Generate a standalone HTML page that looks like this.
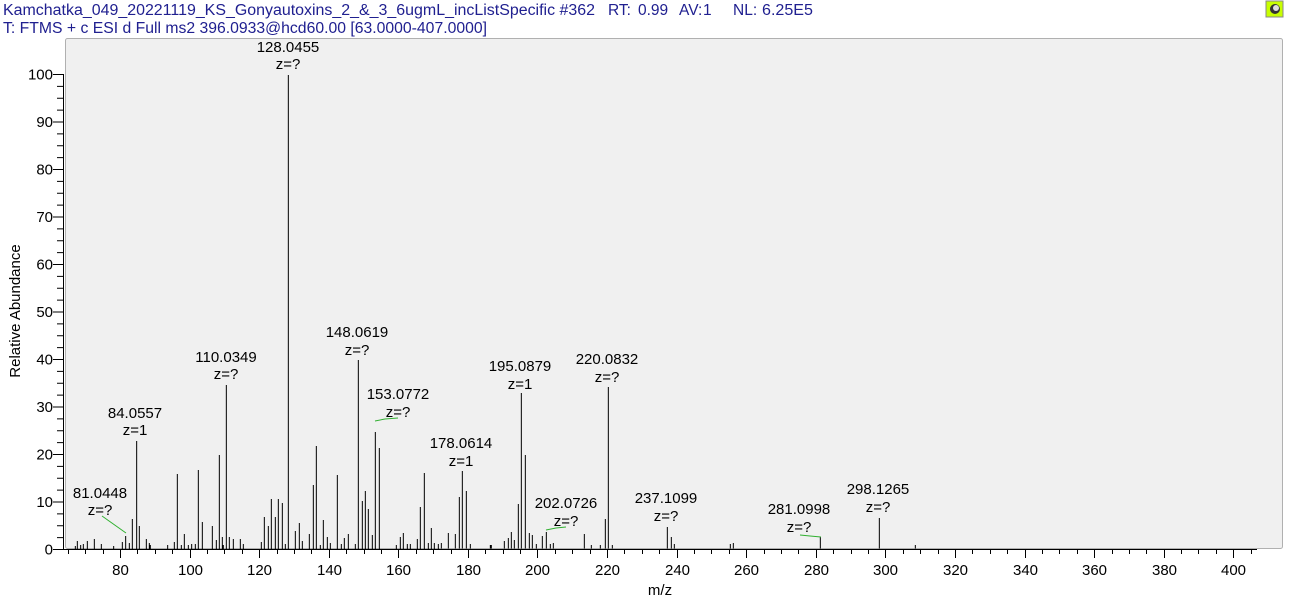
<!DOCTYPE html>
<html><head><meta charset="utf-8"><style>
html,body{margin:0;padding:0;background:#fff;}
svg{display:block;font-family:"Liberation Sans",Arial,sans-serif;}
</style></head><body>
<svg width="1290" height="605" viewBox="0 0 1290 605" xmlns="http://www.w3.org/2000/svg">
<rect x="0" y="0" width="1290" height="605" fill="#fff"/>
<g font-size="15.5" fill="#202090">
<text x="3" y="15" textLength="592" lengthAdjust="spacingAndGlyphs">Kamchatka_049_20221119_KS_Gonyautoxins_2_&amp;_3_6ugmL_incListSpecific #362</text>
<text x="608" y="15">RT:</text><text x="638" y="15">0.99</text>
<text x="679" y="15">AV:</text><text x="703" y="15">1</text>
<text x="733" y="15">NL:</text><text x="762" y="15" textLength="51" lengthAdjust="spacingAndGlyphs">6.25E5</text>
<text x="3" y="33" textLength="484" lengthAdjust="spacingAndGlyphs">T: FTMS + c ESI d Full ms2 396.0933@hcd60.00 [63.0000-407.0000]</text>
</g>
<rect x="1266" y="1" width="17" height="16" fill="#c8ff00" stroke="#888" stroke-width="1"/>
<circle cx="1275" cy="9" r="5" fill="#333"/><circle cx="1276" cy="8" r="3" fill="#ddd"/>
<rect x="65.5" y="38.5" width="1217" height="510" fill="#f0f0f0" stroke="#b0b0b0" stroke-width="1" rx="2"/>
<g stroke="#000" stroke-width="1">
<line x1="63.5" y1="74" x2="63.5" y2="549"/>
<line x1="63" y1="549.5" x2="1257" y2="549.5"/>
</g>
<g id="yt" stroke="#000" stroke-width="1"></g>
<g id="xt" stroke="#000" stroke-width="1"></g>
<g font-size="15" fill="#000" text-anchor="end" id="yl"></g>
<g font-size="15" fill="#000" text-anchor="middle" id="xl"></g>
<g transform="translate(40,420) scale(0.33333)" stroke="#000" stroke-width="3" fill="none">
<path d="M106 378V387M112 363V387M122 375V387M130 372V387M142 363V387M163 357V387M184 372V387M221 378V387M247 366V387M257 348V387M268 369V387M277 297V387M290 63V387M298 318V387M319 357V387M328 369V387M331 375V387M383 375V387M403 366V387M412 162V387M424 375V387M433 342V387M445 375V387M455 372V387M466 372V387M475 150V387M487 306V387M517 318V387M529 360V387M538 105V387M547 351V387M550 375V387M559 -105V387M568 351V387M580 357V387M601 357V387M610 372V387M664 366V387M673 291V387M685 318V387M694 237V387M706 291V387M715 237V387M727 249V387M736 372V387M745 -1035V387M766 333V387M778 309V387M787 363V387M808 342V387M820 195V387M829 78V387M841 375V387M850 300V387M862 351V387M871 369V387M892 165V387M904 372V387M913 354V387M925 342V387M946 372V387M955 -180V387M967 243V387M976 213V387M985 267V387M997 345V387M1006 36V387M1018 84V387M1069 375V387M1081 351V387M1090 339V387M1102 372V387M1111 372V387M1132 357V387M1141 261V387M1153 159V387M1165 369V387M1174 324V387M1183 369V387M1195 372V387"/>
</g>
<g transform="translate(400,420) scale(0.33333)" stroke="#000" stroke-width="3" fill="none">
<path d="M124 369V386M145 339V386M166 342V386M178 231V386M187 153V386M199 213V386M211 372V386M271 375V386M274 375V386M313 363V386M325 354V386M334 336V386M343 360V386M355 252V386M364 -81V386M376 105V386M388 339V386M397 345V386M409 372V386M427 348V386M439 336V386M451 372V386M460 369V386M553 342V386M574 375V386M601 375V386M616 297V386M625 -99V386M637 375V386M802 321V386M814 351V386M823 372V386M991 372V386M1000 369V386"/>
</g>
<g transform="translate(600,420) scale(0.33333)" stroke="#000" stroke-width="3" fill="none">
<path d="M661 351V386M838 294V386M946 375V386"/>
</g>
<g stroke="#30b030" stroke-width="1" fill="none">
<path d="M102 516L126 533"/>
<path d="M375 421L385 419L398 418"/>
<path d="M546 530L556 528L566 527"/>
<path d="M800 535L810 536L821 537"/>
</g>
<g font-size="15" fill="#000" text-anchor="middle">
<text x="288" y="52">128.0455</text><text x="288" y="69">z=?</text>
<text x="226" y="362">110.0349</text><text x="226" y="379">z=?</text>
<text x="135" y="418">84.0557</text><text x="135" y="435">z=1</text>
<text x="100" y="498">81.0448</text><text x="100" y="515">z=?</text>
<text x="357" y="337">148.0619</text><text x="357" y="355">z=?</text>
<text x="398" y="399">153.0772</text><text x="398" y="417">z=?</text>
<text x="461" y="448">178.0614</text><text x="461" y="466">z=1</text>
<text x="520" y="371">195.0879</text><text x="520" y="389">z=1</text>
<text x="607" y="364">220.0832</text><text x="607" y="382">z=?</text>
<text x="566" y="508">202.0726</text><text x="566" y="526">z=?</text>
<text x="666" y="503">237.1099</text><text x="666" y="521">z=?</text>
<text x="799" y="514">281.0998</text><text x="799" y="532">z=?</text>
<text x="878" y="494">298.1265</text><text x="878" y="512">z=?</text>
</g>
<text x="660" y="595" font-size="15" text-anchor="middle">m/z</text>
<text transform="translate(20,311) rotate(-90)" font-size="15" text-anchor="middle">Relative Abundance</text>
<script>
(function(){
var ns="http://www.w3.org/2000/svg";
function el(p,t,a,txt){var e=document.createElementNS(ns,t);for(var k in a)e.setAttribute(k,a[k]);if(txt!=null)e.textContent=txt;document.getElementById(p).appendChild(e);}
for(var v=0;v<=100;v+=2.5){var y=549-v*4.75;var maj=(v%10===0);
el("yt","line",{x1:maj?53:57,x2:63,y1:y+0.5,y2:y+0.5});
if(maj)el("yl","text",{x:53,y:y+5.5},String(v));}
function X(m){return 120+(m-80)*3.479;}
for(var m=65;m<=405;m+=5){var x=Math.round(X(m))+0.5;var maj=(m%20===0);
el("xt","line",{x1:x,x2:x,y1:549,y2:maj?558:554});
if(maj)el("xl","text",{x:x,y:575},String(m));}
})();
</script>
</svg>
</body></html>
